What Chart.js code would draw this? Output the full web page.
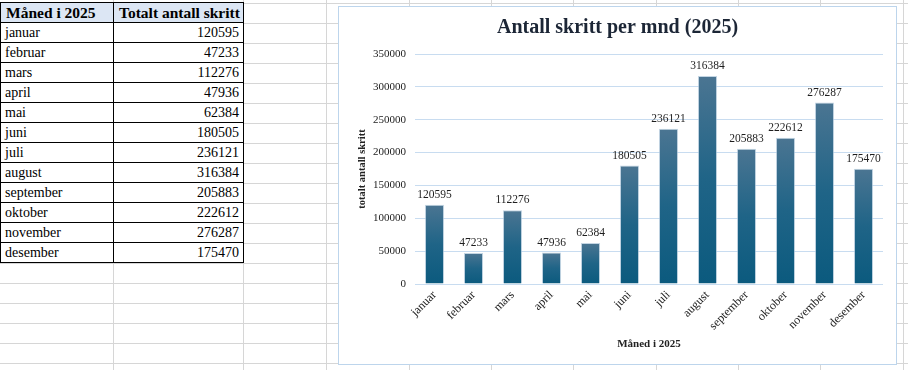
<!DOCTYPE html>
<html lang="no">
<head>
    <meta charset="UTF-8">
    <title>Antall skritt per mnd (2025)</title>
    <style>
        /* Spreadsheet-like page: grey row lines every 20px */
        body {
            margin: 0;
            width: 908px;
            height: 370px;
            overflow: hidden;
            position: relative;
            background-color: #fff;
            background-image: repeating-linear-gradient(to bottom, #d6d6d6 0, #d6d6d6 1px, transparent 1px, transparent 20px);
            background-position: 0 3px;
            font-family: "Liberation Serif", "Times New Roman", serif;
        }

        .col {
            position: absolute;
            top: 0;
            height: 370px;
            width: 1px;
            background: #d6d6d6;
        }

        /* Data table in A1:B13 */
        #dataTable {
            position: absolute;
            left: 0;
            top: 2px;
            border-collapse: collapse;
            background: #fff;
            color: #000;
        }
        #dataTable td, #dataTable th {
            border: 1px solid #000;
            height: 19px;
            padding: 0 4px;
            font-size: 14px;
            line-height: 19px;
            white-space: nowrap;
        }
        #dataTable th {
            background: #dce6f4;
            font-size: 15.5px;
            font-weight: bold;
            text-align: left;
            padding: 0 3px 0 5px;
        }
        #dataTable td.num { text-align: right; }

        /* Chart object floating over the sheet */
        #chart-box {
            position: absolute;
            left: 338px;
            top: 6px;
            width: 557px;
            height: 357px;
            border: 1px solid #bdd5ec;
            background: #fff;
        }
    </style>
    <script src="https://cdn.jsdelivr.net/npm/chart.js"></script>
</head>
<body>

    <table id="dataTable"></table>

    <div id="chart-box">
        <canvas id="stepsChart"></canvas>
    </div>

    <script>
        // Data
        const maaneder = ["januar", "februar", "mars", "april", "mai", "juni",
                          "juli", "august", "september", "oktober", "november", "desember"];
        const skritt = [120595, 47233, 112276, 47936, 62384, 180505,
                        236121, 316384, 205883, 222612, 276287, 175470];
        const kolonneTitler = ["Måned i 2025", "Totalt antall skritt"];
        const yMin = 0;
        const yMax = 350000;
        const yStep = 50000;

        // Sheet column lines (x positions in px)
        [113, 243, 326, 409, 491, 573, 656, 738, 820, 903].forEach(x => {
            const d = document.createElement("div");
            d.className = "col";
            d.style.left = x + "px";
            document.body.insertBefore(d, document.body.firstChild);
        });

        // Build the table from the arrays
        const table = document.getElementById("dataTable");
        let html = "<tr><th style='width:104px'>" + kolonneTitler[0] + "</th><th style='width:121px'>" + kolonneTitler[1] + "</th></tr>";
        maaneder.forEach((m, i) => {
            html += "<tr><td>" + m + "</td><td class='num'>" + skritt[i] + "</td></tr>";
        });
        table.innerHTML = html;

        // Per-bar vertical gradient, like the Excel fill
        function barFill(context) {
            const chart = context.chart;
            const yScale = chart.scales.y;
            if (!chart.chartArea || !yScale || context.dataIndex === undefined) return "#1d6187";
            const v = context.dataset.data[context.dataIndex];
            const top = yScale.getPixelForValue(v);
            const base = yScale.getPixelForValue(0);
            if (!isFinite(top) || !isFinite(base) || base - top < 1) return "#1d6187";
            const g = chart.ctx.createLinearGradient(0, top, 0, base);
            g.addColorStop(0, "#4b7592");
            g.addColorStop(0.5, "#1f6487");
            g.addColorStop(1, "#0b5a7e");
            return g;
        }

        // Value labels above each bar
        const valueLabels = {
            id: "valueLabels",
            afterDatasetsDraw(chart) {
                const ctx = chart.ctx;
                const meta = chart.getDatasetMeta(0);
                ctx.save();
                ctx.font = "11.5px 'Liberation Serif', serif";
                ctx.fillStyle = "#1e1e1e";
                ctx.textAlign = "center";
                ctx.textBaseline = "bottom";
                meta.data.forEach((bar, i) => {
                    ctx.fillText(String(chart.data.datasets[0].data[i]), bar.x, bar.y - 4);
                });
                ctx.restore();
            }
        };

        const gridColor = "#c8dcf0";

        new Chart(document.getElementById("stepsChart").getContext("2d"), {
            type: "bar",
            data: {
                labels: maaneder,
                datasets: [{
                    label: kolonneTitler[1],
                    data: skritt,
                    backgroundColor: barFill,
                    borderColor: "rgba(170,195,215,0.7)",
                    borderWidth: 1,
                    barPercentage: 0.49,
                    categoryPercentage: 1
                }]
            },
            options: {
                responsive: true,
                maintainAspectRatio: false,
                animation: false,
                layout: { padding: { left: 13, right: 13, top: 0, bottom: 0 } },
                plugins: {
                    legend: { display: false },
                    tooltip: { enabled: false },
                    title: {
                        display: true,
                        text: "Antall skritt per mnd (2025)",
                        color: "#1c2636",
                        font: { family: "'Liberation Serif', serif", size: 20, weight: "bold" },
                        padding: { top: 9, bottom: 14 }
                    }
                },
                scales: {
                    x: {
                        grid: { display: false, drawTicks: false },
                        border: { display: false },
                        ticks: {
                            color: "#222",
                            font: { family: "'Liberation Serif', serif", size: 12 },
                            minRotation: 45,
                            maxRotation: 45,
                            autoSkip: false,
                            padding: 4
                        },
                        title: {
                            display: true,
                            text: kolonneTitler[0],
                            color: "#222",
                            font: { family: "'Liberation Serif', serif", size: 11, weight: "bold" },
                            padding: { top: 0, bottom: 13 }
                        },
                        afterFit(scale) { scale.height = 80; }
                    },
                    y: {
                        min: yMin,
                        max: yMax,
                        grid: { color: gridColor, drawTicks: false },
                        border: { display: false },
                        ticks: {
                            stepSize: yStep,
                            color: "#222",
                            font: { family: "'Liberation Serif', serif", size: 11 },
                            padding: 9,
                            callback: v => String(v)
                        },
                        title: {
                            display: true,
                            text: "totalt antall skritt",
                            color: "#222",
                            font: { family: "'Liberation Serif', serif", size: 10.5, weight: "bold" },
                            padding: { top: 4, bottom: 0 }
                        },
                        afterFit(scale) { scale.width = 63; }
                    }
                }
            },
            plugins: [valueLabels]
        });
    </script>

</body>
</html>
